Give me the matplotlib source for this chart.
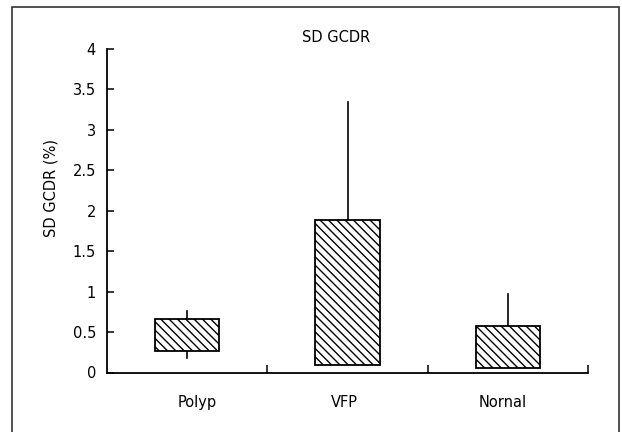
import matplotlib
matplotlib.use("Agg")
import matplotlib.pyplot as plt
from matplotlib.patches import Rectangle
import numpy as np

categories = ["Polyp", "VFP", "Nornal"]
bar_bottom = [0.27, 0.09, 0.05]
bar_top = [0.66, 1.89, 0.575]
err_upper = [0.76, 3.35, 0.97]
err_lower = [0.18, None, None]
y_ticks = [0, 0.5, 1, 1.5, 2, 2.5, 3, 3.5, 4]
y_tick_labels = ["0", "0.5", "1", "1.5", "2", "2.5", "3", "3.5", "4"]

plt.rcParams['font.family'] = ['DejaVu Sans']
plt.rcParams['hatch.linewidth'] = 1.0
fig = plt.figure(figsize=(6.22, 4.32), dpi=100)
ax = fig.add_axes([107/622, 1-372.5/432, (588-107)/622, (372.5-49)/432])

# figure border
fig.patches.append(Rectangle((12.3/622, -0.05), (619.3-12.3)/622, 1.05 - 7.3/432,
                             transform=fig.transFigure, fill=False,
                             edgecolor='#333333', linewidth=1.2))

x = np.arange(len(categories))
heights = [t - b for t, b in zip(bar_top, bar_bottom)]
ax.bar(x, heights, bottom=bar_bottom, width=0.4, color='white',
       edgecolor='black', linewidth=1.3, hatch='\\\\\\\\', zorder=3)

for xi, t, up in zip(x, bar_top, err_upper):
    ax.plot([xi, xi], [t, up], color='black', linewidth=1.2, zorder=2)
for xi, b, lo in zip(x, bar_bottom, err_lower):
    if lo is not None:
        ax.plot([xi, xi], [lo, b], color='black', linewidth=1.2, zorder=2)

ax.set_xlim(-0.5, 2.5)
ax.set_ylim(0, 4)
ax.spines['top'].set_visible(False)
ax.spines['right'].set_visible(False)
for s in ['left', 'bottom']:
    ax.spines[s].set_linewidth(1.3)

ax.set_yticks(y_ticks)
ax.set_yticklabels(y_tick_labels, fontsize=10.5)
ax.tick_params(axis='y', direction='in', length=5, width=1.1, pad=8)

ax.set_xticks([0.5, 1.5, 2.5])
ax.set_xticklabels([])
ax.tick_params(axis='x', which='major', direction='in', length=6, width=1.1)
ax.set_xticks([0.06, -0.02 + 1, -0.03 + 2], minor=True)
ax.set_xticklabels(categories, minor=True, fontsize=10.5)
ax.tick_params(axis='x', which='minor', length=0, pad=16)

ax.set_ylabel("SD GCDR (%)", fontsize=10.5)
ax.yaxis.set_label_coords(-0.101, 0.57)

fig.text(335.7/622, 1-38/432, "SD GCDR", ha='center', va='center', fontsize=10.5)

fig.savefig("out.png", dpi=100)
